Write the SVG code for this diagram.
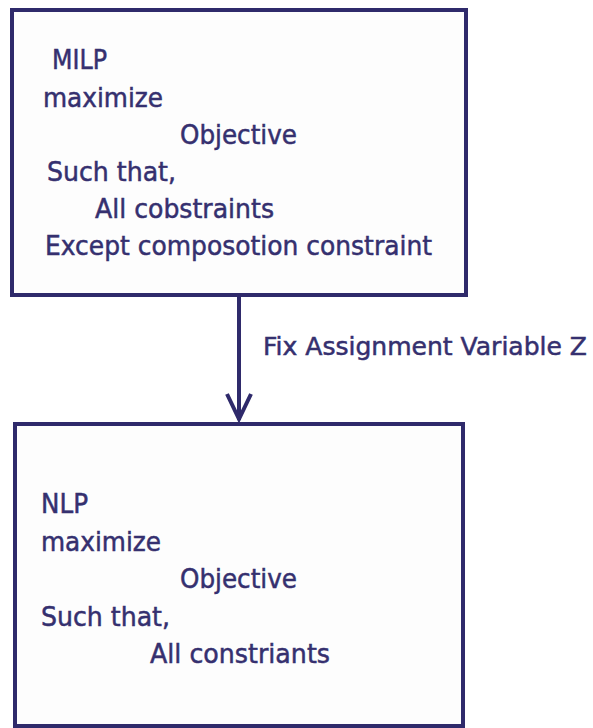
<svg xmlns="http://www.w3.org/2000/svg" width="593" height="728" viewBox="0 0 593 728">
<style>
.box{fill:#fdfdfd;stroke:#2f2a6b;stroke-width:4}
.t{font-family:"DejaVu Sans","Liberation Sans",sans-serif;font-size:26px;fill:#35306f;stroke:#35306f;stroke-width:0.5}
.lbl{font-size:24px}
.edge{stroke:#2f2a6b;stroke-width:4;fill:none}
</style>
<defs>
<marker id="arr" viewBox="0 0 30 30" refX="28" refY="15" markerWidth="30" markerHeight="30" markerUnits="userSpaceOnUse" orient="auto">
<path d="M2,3 L27,15 L2,27" fill="none" stroke="#2f2a6b" stroke-width="4" stroke-linejoin="miter"/>
</marker>
</defs>
<rect width="593" height="728" fill="#ffffff"/>
<g id="milp">
<rect class="box" x="12" y="10" width="454" height="285"/>
<text class="t" x="52" y="69" textLength="55" lengthAdjust="spacingAndGlyphs">MILP</text>
<text class="t" x="43" y="107" textLength="120" lengthAdjust="spacingAndGlyphs">maximize</text>
<text class="t" x="180" y="144" textLength="117" lengthAdjust="spacingAndGlyphs">Objective</text>
<text class="t" x="47" y="181" textLength="129" lengthAdjust="spacingAndGlyphs">Such that,</text>
<text class="t" x="95" y="218" textLength="179" lengthAdjust="spacingAndGlyphs">All cobstraints</text>
<text class="t" x="45" y="255" textLength="387" lengthAdjust="spacingAndGlyphs">Except composotion constraint</text>
</g>
<g id="nlp">
<rect class="box" x="15" y="424" width="448" height="302"/>
<text class="t" x="41" y="513" textLength="47" lengthAdjust="spacingAndGlyphs">NLP</text>
<text class="t" x="41" y="551" textLength="120" lengthAdjust="spacingAndGlyphs">maximize</text>
<text class="t" x="180" y="588" textLength="117" lengthAdjust="spacingAndGlyphs">Objective</text>
<text class="t" x="41" y="626" textLength="129" lengthAdjust="spacingAndGlyphs">Such that,</text>
<text class="t" x="150" y="663" textLength="180" lengthAdjust="spacingAndGlyphs">All constriants</text>
</g>
<g id="connectors">
<line class="edge" x1="239" y1="297" x2="239" y2="420" marker-end="url(#arr)"/>
<text class="t lbl" x="263" y="355" textLength="324" lengthAdjust="spacingAndGlyphs">Fix Assignment Variable Z</text>
</g>
</svg>
